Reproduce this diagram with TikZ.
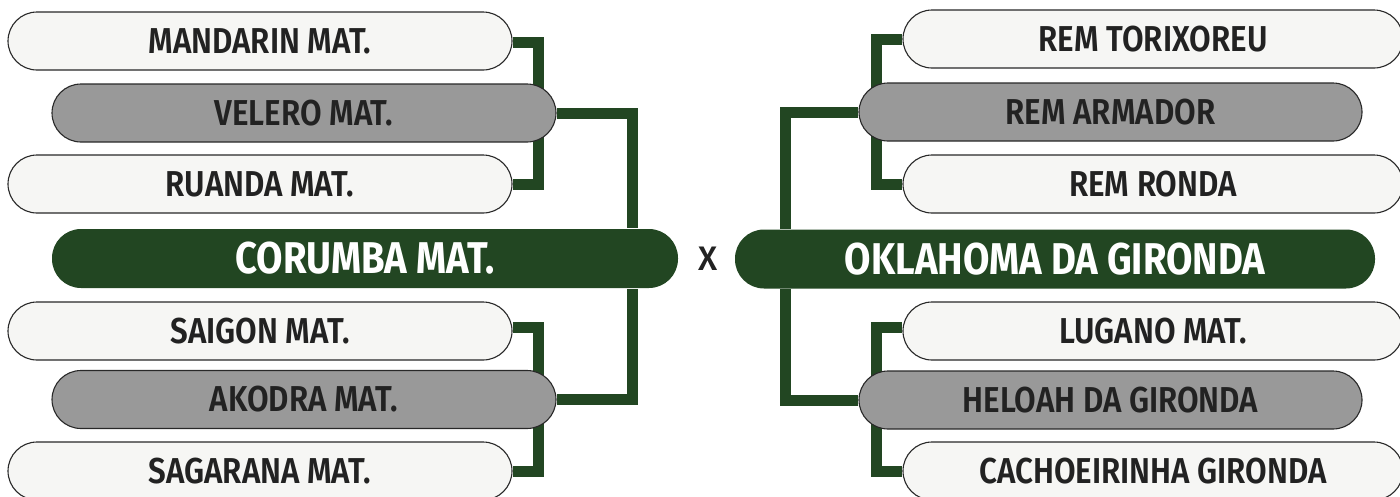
\documentclass[tikz,border=0pt]{standalone}
\usepackage{fontspec}
\setmainfont{Fira Sans}
\newfontfamily\fsemi[FakeStretch=0.87]{Fira Sans SemiBold}
\newfontfamily\fbold[FakeStretch=0.86]{Fira Sans Bold}
\newfontfamily\fmed{Fira Sans Medium}
\usetikzlibrary{calc,backgrounds}
\definecolor{darkgreen}{RGB}{34,70,34}
\definecolor{lightfill}{RGB}{246,246,244}
\definecolor{midgray}{RGB}{153,153,153}
\definecolor{boxline}{RGB}{40,40,40}
\definecolor{textdark}{RGB}{34,34,34}
\tikzset{
  teambox/.style={draw=boxline, line width=1.1pt, rounded corners=29pt,
    minimum width=504pt, minimum height=58pt, inner sep=0pt, text=textdark,
    font=\fsemi\fontsize{36}{36}\selectfont},
  lightbox/.style={teambox, fill=lightfill},
  graybox/.style={teambox, fill=midgray},
  finalbox/.style={teambox, fill=darkgreen, draw=none, text=white, minimum height=59pt,
    font=\fbold\fontsize{44.5}{44.5}\selectfont},
  link/.style={draw=darkgreen, line width=11pt, line join=miter}
}
\begin{document}
\begin{tikzpicture}[x=1pt,y=-1pt]
\useasboundingbox (0,0) rectangle (1400,496);
% left side
\node[lightbox] (man) at (260,41) {MANDARIN MAT.};
\node[graybox]  (vel) at (304,113) {VELERO MAT.};
\node[lightbox] (rua) at (260,184) {RUANDA MAT.};
\node[finalbox, minimum width=626pt] (cor) at (365,258.5) {CORUMBA MAT.};
\node[lightbox] (sai) at (260,331) {SAIGON MAT.};
\node[graybox]  (ako) at (304,399.5) {AKODRA MAT.};
\node[lightbox] (sag) at (260,471) {SAGARANA MAT.};
% right side
\node[lightbox, minimum width=500pt] (tor) at (1153,39) {REM TORIXOREU};
\node[graybox, minimum width=503pt]  (arm) at (1110.5,112) {REM ARMADOR};
\node[lightbox, minimum width=500pt] (ron) at (1153,184) {REM RONDA};
\node[finalbox, minimum width=640pt] (okl) at (1055,259) {OKLAHOMA DA GIRONDA};
\node[lightbox, minimum width=500pt] (lug) at (1153,331) {LUGANO MAT.};
\node[graybox, minimum width=503pt]  (hel) at (1110.5,400) {HELOAH DA GIRONDA};
\node[lightbox, minimum width=500pt] (cac) at (1153,471) {CACHOEIRINHA GIRONDA};
% versus
\node[text=textdark, font=\fmed\fontsize{34}{34}\selectfont, inner sep=0pt] (vs) at (708,259) {X};
\begin{scope}[on background layer]
\path[link] ([yshift=-1pt]man.east) -- ++(26,0) |- (rua.east);
\path[link] (vel.east) -| ($(cor.north east)+(-46,0)$);
\path[link] ([yshift=4pt]sai.east) -- ++(26,0) |- (sag.east);
\path[link] (ako.east) -| ($(cor.south east)+(-46,0)$);
\path[link] (tor.west) -- ++(-26,0) |- (ron.west);
\path[link] (arm.west) -| ($(okl.north west)+(51,0)$);
\path[link] ([yshift=4pt]lug.west) -- ++(-26,0) |- (cac.west);
\path[link] (hel.west) -| ($(okl.south west)+(51,0)$);
\end{scope}
\end{tikzpicture}
\end{document}
